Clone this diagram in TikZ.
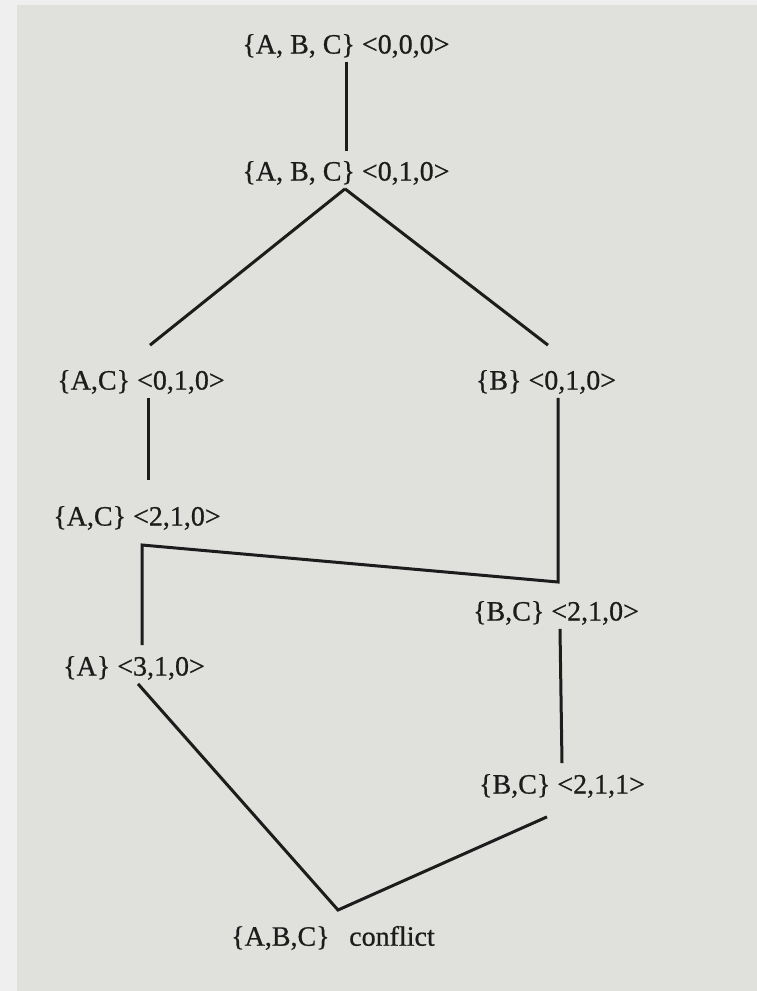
\documentclass[tikz,border=0pt]{standalone}
\usepackage{fontspec}
\setmainfont{Liberation Serif}
\newfontfamily\inkfont{Liberation Serif}[FakeBold=0.7]
\definecolor{ink}{HTML}{1C1C1C}
\definecolor{page}{HTML}{E0E0DD}
\definecolor{outer}{HTML}{EFEFEF}
\begin{document}
\begin{tikzpicture}[x=1pt,y=-1pt,
  lbl/.style={inner sep=0pt, outer sep=4pt, text=ink, font=\inkfont\fontsize{28}{33}\selectfont},
  edge/.style={draw=ink, line width=3pt, line join=miter}]
\fill[outer] (0,0) rectangle (757,991);
\fill[page] (17,5) rectangle (757,991);
\useasboundingbox (0,0) rectangle (757,991);
\node[lbl] (n1) at (346,46) {\{A, B, C\} <0,0,0>};
\node[lbl] (n2) at (346,173) {\{A, B, C\} <0,1,0>};
\node[lbl] (n3) at (141,382) {\{A,C\} <0,1,0>};
\node[lbl] (n4) at (546,382) {\{B\} <0,1,0>};
\node[lbl] (n5) at (137,518) {\{A,C\} <2,1,0>};
\node[lbl] (n6) at (134,668) {\{A\} <3,1,0>};
\node[lbl] (n7) at (556,613) {\{B,C\} <2,1,0>};
\node[lbl] (n8) at (562,786) {\{B,C\} <2,1,1>};
\node[lbl] (n9) at (333,938) {\{A,B,C\}\hspace{0.7em}conflict};
\coordinate (c1) at (558,582);
\coordinate (c2) at (142,545);
\coordinate (v) at (338,910);
\draw[edge] (n1.south) -- ([yshift=6pt]n2.north);
\draw[edge] ([xshift=-1pt]n2.south) -- ([xshift=9pt,yshift=21pt]n3.north);
\draw[edge] ([xshift=-1pt]n2.south) -- ([xshift=2pt,yshift=21pt]n4.north);
\draw[edge] ([xshift=7pt]n3.south) -- ([xshift=11pt,yshift=22pt]n5.north);
\draw[edge] ([xshift=12pt]n4.south) -- (c1) -- (c2) -- ([xshift=8pt,yshift=7pt]n6.north);
\draw[edge] ([xshift=4pt]n7.south) -- ([xshift=0pt,yshift=7pt]n8.north);
\draw[edge] ([xshift=4pt]n6.south) -- (v) -- ([xshift=-15pt,yshift=-15pt]n8.south);
\end{tikzpicture}
\end{document}
